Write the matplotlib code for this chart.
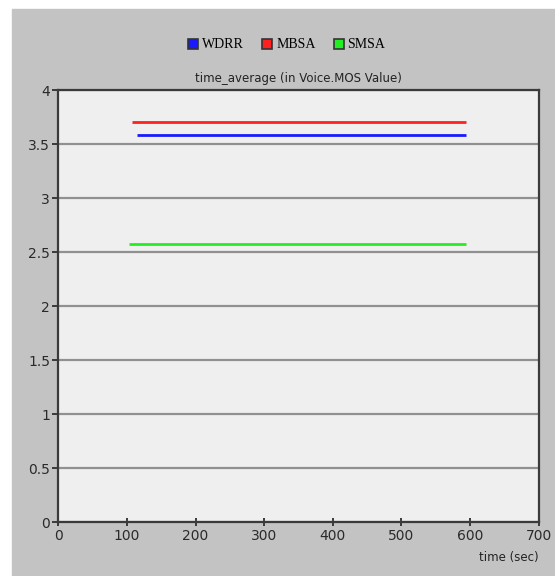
import matplotlib
matplotlib.use('Agg')
import matplotlib.pyplot as plt
from matplotlib.patches import Rectangle
from matplotlib.lines import Line2D

#%%
# time-average Voice MOS for the three schedulers
names = ['WDRR', 'MBSA', 'SMSA']
colors = ['#1a1aff', '#ff2020', '#22ee22']
t_start = [114, 108, 103]
t_end = [594, 594, 594]
mos = [3.58, 3.70, 2.57]

W, H = 555, 576
fig = plt.figure(figsize=(W / 100, H / 100), dpi=100)
fig.patch.set_facecolor('white')

# grey panel behind the chart
fig.patches.append(Rectangle((12 / W, 0), 1 - 12 / W, 1 - 9 / H,
                             transform=fig.transFigure, color='#c3c3c3', zorder=-10))

x0, x1, y0, y1 = 58.4, 538.6, 90, 522
ax = fig.add_axes([x0 / W, 1 - y1 / H, (x1 - x0) / W, (y1 - y0) / H])
ax.set_facecolor('#efefef')

for name, c, a, b, v in zip(names, colors, t_start, t_end, mos):
    ax.plot([a, b], [v, v], color=c, lw=2.0, solid_capstyle='butt', label=name)

ax.set_xlim(0, 700)
ax.set_ylim(0, 4)
ax.set_xticks(range(0, 701, 100))
ax.set_yticks([0, 0.5, 1, 1.5, 2, 2.5, 3, 3.5, 4])
ax.set_yticklabels(['0', '0.5', '1', '1.5', '2', '2.5', '3', '3.5', '4'])
ax.yaxis.grid(True, color='#909090', lw=1.6)
ax.set_axisbelow(True)
for s in ax.spines.values():
    s.set_color('#3a3a3a')
    s.set_linewidth(1.6)
ax.tick_params(axis='both', colors='#3a3a3a', labelcolor='#2a2a2a',
               labelsize=10, length=4, width=1.4, pad=2)
ax.tick_params(axis='x', direction='inout', length=6)

ax.set_title('time_average (in Voice.MOS Value)', fontsize=8.5, color='#222222', pad=6)
fig.text(x1 / W, 1 - 557 / H, 'time (sec)', ha='right', va='center',
         fontsize=8.5, color='#222222')

handles = [Line2D([], [], ls='none', marker='s', markersize=7.5, markerfacecolor=c,
                  markeredgecolor='#333333', markeredgewidth=1.2) for c in colors]
fig.legend(handles, names, loc='center', bbox_to_anchor=(287 / W, 1 - 45 / H), ncol=3,
           frameon=False, handlelength=0.7, handletextpad=0.3, columnspacing=1.3,
           prop={'family': 'Liberation Serif', 'size': 10})

fig.savefig('out.png', dpi=100)
